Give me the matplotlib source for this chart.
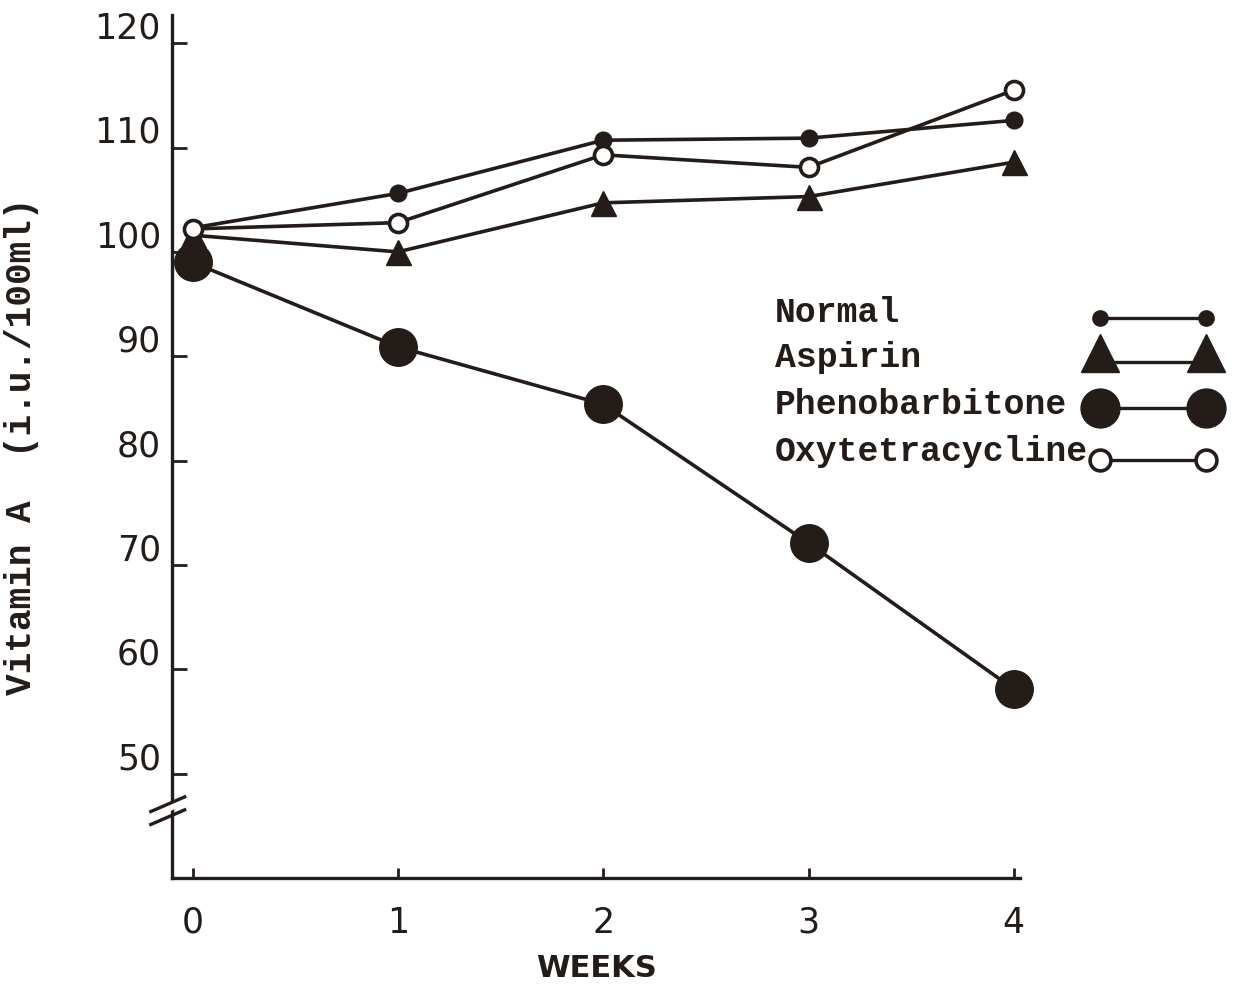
import matplotlib.pyplot as plt
import matplotlib.transforms as mtransforms
from matplotlib.lines import Line2D
from matplotlib.patches import Polygon

# data
weeks = [0, 1, 2, 3, 4]
normal = [102.3, 105.6, 110.7, 110.9, 112.6]
aspirin = [101.6, 100.0, 104.7, 105.3, 108.6]
phenobarbitone = [99.0, 90.9, 85.4, 72.1, 58.1]
oxytetracycline = [102.2, 102.8, 109.3, 108.1, 115.5]

y_ticks = [50, 60, 70, 80, 90, 100, 110, 120]
x_ticks = [0, 1, 2, 3, 4]

ink = '#231c19'
W, H = 1256, 985

fig = plt.figure(figsize=(12.56, 9.85), dpi=100)
ax = fig.add_axes([172 / W, 1 - 878 / H, 848 / W, 863 / H])

ax.plot(weeks, normal, color=ink, lw=2.6, marker='o', ms=12, mfc=ink, mec=ink, clip_on=False, zorder=3)
ax.plot(weeks, aspirin, color=ink, lw=2.6, marker='^', ms=18, mfc=ink, mec=ink, clip_on=False, zorder=3)
ax.plot(weeks, phenobarbitone, color=ink, lw=2.6, marker='o', ms=27, mfc=ink, mec=ink, clip_on=False, zorder=3)
ax.plot(weeks, oxytetracycline, color=ink, lw=2.6, marker='o', ms=13, mfc='white', mec=ink, mew=2.6,
        clip_on=False, zorder=4)

ax.set_xlim(-0.1, 4.03)
ax.set_ylim(40, 122.7)

for s in ['top', 'right']:
    ax.spines[s].set_visible(False)
for s in ['left', 'bottom']:
    ax.spines[s].set_linewidth(2.4)
    ax.spines[s].set_color(ink)

ax.set_yticks(y_ticks)
ax.set_xticks(x_ticks)
ax.tick_params(axis='y', direction='in', length=11, width=2, color=ink, pad=8,
               labelsize=25, labelcolor=ink)
ax.tick_params(axis='x', direction='in', length=7, width=2, color=ink, pad=20,
               labelsize=25, labelcolor=ink)

# typed labels sit a little above their tick marks
offset = mtransforms.ScaledTranslation(0, 13 / 72, fig.dpi_scale_trans)
for lab in ax.get_yticklabels():
    lab.set_transform(lab.get_transform() + offset)

ax.set_ylabel('Vitamin A  (i.u./100ml)', family='Liberation Mono', fontweight='bold',
              fontsize=26, color=ink, labelpad=40)
ax.set_xlabel('WEEKS', family='DejaVu Sans', fontweight='bold', fontsize=22, color=ink, labelpad=10)

# axis break on the y spine
gap = Polygon([[-0.02, 0.068], [0.013, 0.085], [0.013, 0.094], [-0.02, 0.077]],
              closed=True, transform=ax.transAxes, facecolor='white', edgecolor='none',
              clip_on=False, zorder=5)
ax.add_patch(gap)
for y0, y1 in [(0.062, 0.079), (0.077, 0.094)]:
    ax.add_line(Line2D([-0.025, 0.015], [y0, y1], transform=ax.transAxes, color=ink,
                       lw=2.4, clip_on=False, zorder=6))

# legend drawn by hand: typed names on the left, symbols on the right
rows = [
    ('Normal', 313, dict(marker='o', ms=11, mfc=ink, mec=ink), 318, 318),
    ('Aspirin', 357, dict(marker='^', ms=27, mfc=ink, mec=ink), 362, 353),
    ('Phenobarbitone', 405, dict(marker='o', ms=28, mfc=ink, mec=ink), 408, 408),
    ('Oxytetracycline', 452, dict(marker='o', ms=15, mfc='white', mec=ink, mew=2.6), 460, 460),
]
for name, ty, style, ly, my in rows:
    fig.text(775 / W, 1 - ty / H, name, family='Liberation Mono', fontweight='bold',
             fontsize=25, color=ink, va='center', ha='left')
    fig.add_artist(Line2D([1100 / W, 1206 / W], [1 - ly / H, 1 - ly / H],
                          transform=fig.transFigure, color=ink, lw=2.4))
    fig.add_artist(Line2D([1100 / W, 1206 / W], [1 - my / H, 1 - my / H],
                          transform=fig.transFigure, ls='none', **style))

fig.savefig('out.png', dpi=100)
